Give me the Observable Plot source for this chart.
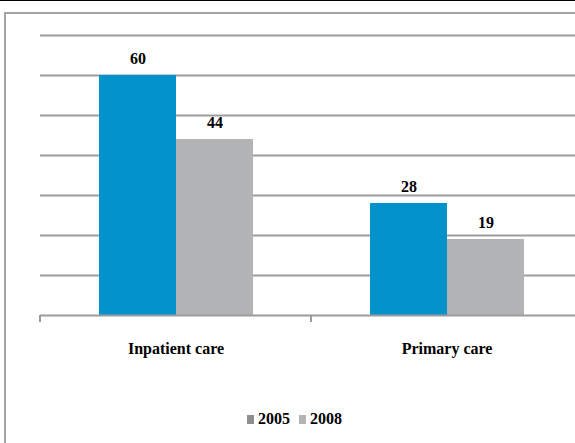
<!DOCTYPE html>
<html>
<head>
<meta charset="utf-8">
<script src="https://cdn.jsdelivr.net/npm/d3@7"></script>
<script src="https://cdn.jsdelivr.net/npm/@observablehq/plot@0.6"></script>
<style>
  html, body { margin: 0; padding: 0; background: #fff; overflow: hidden; }
  #page { position: relative; width: 575px; height: 443px; border-top: 1px solid #000; box-sizing: border-box; overflow: hidden; }
  #frame { position: absolute; left: 4px; top: 11px; width: 620px; height: 500px; border: 2px solid #a3a3a3; box-sizing: border-box; }
  #chart { position: absolute; left: 0; top: -1px; }
  #legend { position: absolute; top: 409px; left: 247px; display: flex; align-items: center; font: bold 16px "Liberation Serif", "Times New Roman", serif; color: #000; }
  #legend .item { display: flex; align-items: center; margin-right: 9px; }
  #legend .sw { width: 7px; height: 9px; margin-right: 4px; }
</style>
</head>
<body>
<div id="page">
  <div id="frame"></div>
  <div id="chart"></div>
  <div id="legend"></div>
</div>
<script>
const categories = ["Inpatient care", "Primary care"];
const years = ["2005", "2008"];
const values2005 = [60, 28];
const values2008 = [44, 19];
const yTicks = [0, 10, 20, 30, 40, 50, 60, 70];
const barColors = ["#0392ca", "#b1b3b5"];
const legendColors = ["#8e8e8e", "#b4b4b4"];

const data = [];
categories.forEach((c, i) => {
  data.push({category: c, year: years[0], value: values2005[i]});
  data.push({category: c, year: years[1], value: values2008[i]});
});

const font = '"Liberation Serif", "Times New Roman", serif';

const plot = Plot.plot({
  width: 575,
  height: 443,
  marginLeft: 40,
  marginRight: -7,
  marginTop: 35,
  marginBottom: 128,
  style: {fontFamily: font, background: "transparent", overflow: "visible"},
  fx: {domain: categories, padding: 0, label: null},
  x: {domain: years, paddingInner: 0, paddingOuter: 0.753, axis: null},
  y: {domain: [0, 70], axis: null},
  color: {domain: years, range: barColors},
  marks: [
    Plot.gridY(yTicks.filter(d => d > 0), {stroke: "#9c9c9c", strokeWidth: 2, strokeOpacity: 1}),
    Plot.barY(data, {fx: "category", x: "year", y: "value", fill: "year"}),
    Plot.ruleY([0], {stroke: "#9c9c9c", strokeWidth: 2}),
    Plot.text(data, {fx: "category", x: "year", y: "value", text: d => String(d.value), dy: -17,
      fontSize: 16, fontWeight: "bold", fill: "#000"}),
    Plot.axisFx({anchor: "bottom", tickSize: 0, tickPadding: 27, fontSize: 16, fontWeight: "bold",
      fill: "#000", label: null, fontFamily: font})
  ]
});

document.getElementById("chart").appendChild(plot);

// baseline category-boundary ticks, placed with the fx scale
const fx = plot.scale("fx");
const y = plot.scale("y");
const y0 = y.apply(0);
const bounds = categories.map(c => fx.apply(c));
bounds.push(fx.apply(categories[categories.length - 1]) + fx.bandwidth);
const svg = d3.select(plot);
svg.append("g").selectAll("line").data(bounds).join("line")
  .attr("x1", d => d).attr("x2", d => d)
  .attr("y1", y0).attr("y2", y0 + 7)
  .attr("stroke", "#9c9c9c").attr("stroke-width", 2);

const legend = d3.select("#legend");
years.forEach((yr, i) => {
  const item = legend.append("div").attr("class", "item");
  item.append("div").attr("class", "sw").style("background", legendColors[i]);
  item.append("span").text(yr);
});
</script>
</body>
</html>
